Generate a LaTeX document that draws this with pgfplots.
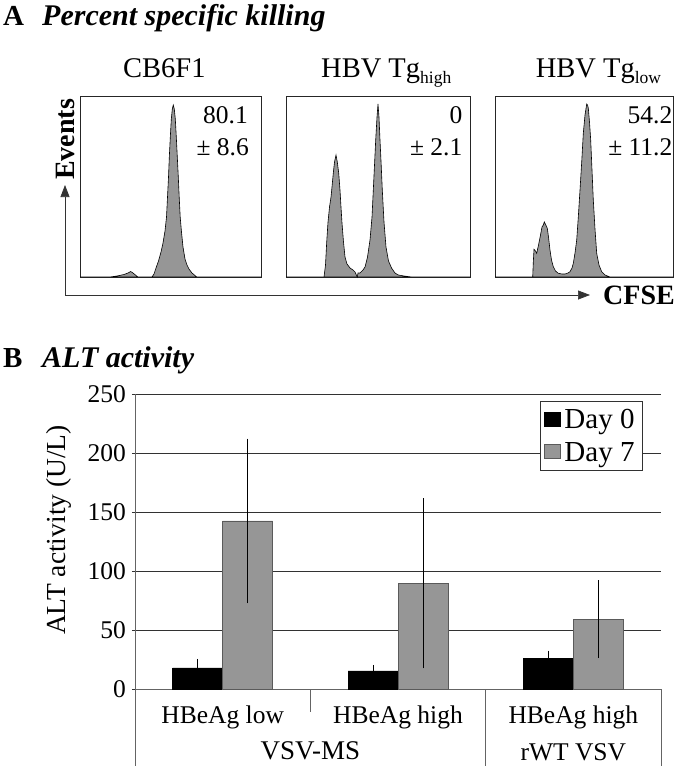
\documentclass[border=0pt]{standalone}
\usepackage{fontspec}
\setmainfont{Liberation Serif}
\usepackage{pgfplots}
\pgfplotsset{compat=1.18}
\usetikzlibrary{arrows.meta}
\definecolor{histgray}{RGB}{150,150,150}
\definecolor{bargray}{RGB}{150,150,150}
\definecolor{baredge}{RGB}{90,90,90}
\definecolor{gridc}{RGB}{50,50,50}
\definecolor{axc}{RGB}{100,100,100}
\pgfplotsset{
  hist/.style={scale only axis, anchor=south west, height=181pt, ymin=0, ymax=181,
    xtick=\empty, ytick=\empty, axis line style={black!85, line width=0.8pt}, clip=false},
  histfill/.style={fill=histgray, draw=black, line width=0.6pt},
}
\begin{document}
\begin{tikzpicture}
\useasboundingbox (0pt,0pt) rectangle (680pt,-766pt);

\node[anchor=base west, inner sep=0pt, font=\fontsize{29}{30}\selectfont\bfseries] at (3pt,-25pt) {A};
\node[anchor=base west, inner sep=0pt, font=\fontsize{30}{30}\selectfont\bfseries\itshape] at (42pt,-25pt) {Percent specific killing};
\node[anchor=base west, inner sep=0pt, font=\fontsize{29}{30}\selectfont\bfseries] at (3pt,-367pt) {B};
\node[anchor=base west, inner sep=0pt, font=\fontsize{30}{30}\selectfont\bfseries\itshape] at (42pt,-367pt) {ALT activity};

% ---- histogram 1
\begin{axis}[hist, at={(80pt,-277pt)}, width=181pt, xmin=0, xmax=181]
\addplot[histfill] coordinates {(0,0) (30,0) (37,1) (44,2.5) (48,4) (50.7,5.5) (53,4) (56,1.5) (58,0) (72,0) (74,3) (76,9) (78.5,16) (81,25) (83,34) (85,46) (86.5,60) (87.5,80) (88.5,100) (89.3,120) (90.3,140) (91.3,158) (92.3,168) (93.3,172) (94.3,168) (95.3,158) (96.3,140) (97.3,120) (98.3,100) (99.2,80) (100.2,60) (101.5,45) (103,30) (105,18) (107,12) (109,8) (112,4) (116.7,0) (181,0)} \closedcycle;
\node[anchor=base east, inner sep=0pt, font=\fontsize{25.5}{30}\selectfont] at (axis cs:168,153.5) {80.1};
\node[anchor=base east, inner sep=0pt, font=\fontsize{25.5}{30}\selectfont] at (axis cs:169,121.8) {± 8.6};
\end{axis}
\node[anchor=base west, inner sep=0pt, font=\fontsize{28.5}{30}\selectfont] at (123pt,-77.5pt) {CB6F1};

% ---- histogram 2
\begin{axis}[hist, at={(286pt,-277pt)}, width=184pt, xmin=0, xmax=184]
\addplot[histfill] coordinates {(0,0) (38,0) (39.5,12) (40.7,35) (42,55) (43.5,70) (45,80) (45.7,87) (47.3,104) (48.5,115) (50,122) (51.3,115) (52.7,104) (54,87) (55,70) (56,54) (57.5,35) (59,20) (61,13) (64,9) (67,7) (69,5) (71.3,0) (72,4) (74,4) (77,7) (79,10) (81.5,20) (84,37) (86,60) (87.3,87) (88.5,112) (89.7,137) (91,160) (92,173) (93,160) (94,137) (95.2,112) (96.3,87) (98,55) (100,30) (102.5,16) (105.7,8.7) (109,4) (112.3,2) (118,1) (125.7,0) (184,0)} \closedcycle;
\node[anchor=base east, inner sep=0pt, font=\fontsize{25.5}{30}\selectfont] at (axis cs:176.5,153.5) {0};
\node[anchor=base east, inner sep=0pt, font=\fontsize{25.5}{30}\selectfont] at (axis cs:176.5,121.8) {± 2.1};
\end{axis}
\node[anchor=base west, inner sep=0pt, font=\fontsize{28.5}{30}\selectfont] at (321pt,-77.5pt) {HBV Tg\raisebox{-6pt}{\fontsize{17.5}{20}\selectfont high}};

% ---- histogram 3
\begin{axis}[hist, at={(495pt,-277pt)}, width=178pt, xmin=0, xmax=178]
\addplot[histfill] coordinates {(0,0) (37.7,0) (38.3,15) (39,27.7) (40.5,26) (41.7,23.7) (43.5,32) (45.5,42) (47,50) (48.3,52) (49.3,55) (50.5,52.7) (52.3,48.7) (53.5,40) (55,27) (56.5,17) (58.3,10.3) (60.5,6) (63.3,3.7) (67,3) (70,3) (73,4) (75,5.3) (77,9) (78.3,13.7) (80,24) (81.7,37) (83.3,60) (85,87) (86.7,115) (88.3,143.7) (90,162) (91.7,173) (92.5,172) (93.3,169) (94.5,155) (95.7,137) (97,107) (98.3,77) (100,48) (101.7,23.7) (104,12) (106.7,5.3) (110,2) (115,0) (178,0)} \closedcycle;
\node[anchor=base east, inner sep=0pt, font=\fontsize{25.5}{30}\selectfont] at (axis cs:177.5,153.5) {54.2};
\node[anchor=base east, inner sep=0pt, font=\fontsize{25.5}{30}\selectfont] at (axis cs:177.5,121.8) {± 11.2};
\end{axis}
\node[anchor=base west, inner sep=0pt, font=\fontsize{28.5}{30}\selectfont] at (535.6pt,-77.5pt) {HBV Tg\raisebox{-6pt}{\fontsize{17.5}{20}\selectfont low}};

% ---- Events / CFSE arrows
\begin{axis}[at={(65pt,-295pt)}, anchor=south west, scale only axis, width=525pt, height=110pt,
  xmin=0, xmax=1, ymin=0, ymax=1, axis x line*=bottom, axis y line*=left,
  xtick=\empty, ytick=\empty,
  axis line style={black!80, line width=0.7pt, -{Triangle[length=12pt,width=9pt]}},
  xlabel={CFSE}, ylabel={Events},
  label style={font=\fontsize{28}{30}\selectfont\bfseries, inner sep=0pt},
  xlabel style={at={(axis description cs:1,0)}, anchor=west, xshift=13pt},
  ylabel style={at={(axis description cs:0,1.045)}, anchor=west}]
\addplot[draw=none] coordinates {(0,0)};
\end{axis}

% ---- Panel B
\begin{axis}[at={(135pt,-689pt)}, anchor=south west, scale only axis, width=526pt, height=295pt,
  xmin=0, xmax=3, ymin=0, ymax=250, ytick={0,50,...,250},
  ymajorgrids, grid style={gridc, line width=0.7pt},
  axis x line*=bottom, axis y line*=left, axis line style={axc, line width=0.8pt},
  xtick={0.5,1.5,2.5}, xticklabels={HBeAg low, HBeAg high, {HBeAg high\\rWT VSV}},
  xticklabel style={align=center, anchor=north, inner sep=0pt, yshift=-14pt},
  xtick style={draw=none}, ytick style={draw=gridc, line width=0.7pt},
  major tick length=3pt, tick align=outside,
  tick label style={font=\fontsize{25.5}{37}\selectfont},
  yticklabel style={inner sep=0pt, xshift=-6pt},
  /pgf/number format/assume math mode=true,
  ylabel={ALT activity (U/L)},
  ylabel style={font=\fontsize{27.5}{30}\selectfont, at={(axis description cs:-0.1312,0.539)}, anchor=base, inner sep=0pt},
  clip=false, ybar, bar width=50pt,
  legend style={at={(axis description cs:0.77,0.976)}, anchor=north west, draw=gridc, fill=white,
    line width=0.7pt, font=\fontsize{29}{30}\selectfont, inner xsep=4pt, inner ysep=8pt, row sep=12pt,
    nodes={inner xsep=3.5pt, inner ysep=0pt}},
  legend cell align=left,
  legend image code/.code={\draw[#1, line width=0.6pt] (0pt,-6pt) rectangle (16pt,8pt);},
  error bars/error mark options={black, mark size=3pt, line width=0.7pt},
]
\addplot[bar shift=-25pt, fill=black, draw=black,
  error bars/.cd, y dir=both, y explicit, error bar style={black, line width=0.7pt}]
  coordinates {(0.5,18) +- (0,5) (1.5,15.3) +- (0,2.7) (2.5,26) +- (0,4)};
\addlegendentry{Day 0}
\addplot[bar shift=25pt, fill=bargray, draw=baredge,
  error bars/.cd, y dir=both, y explicit, error bar style={black, line width=0.7pt}]
  coordinates {(0.5,142.4) +- (0,67.2) (1.5,89.6) +- (0,69.5) (2.5,59.2) +- (0,30.4)};
\addlegendentry{Day 7}
\draw[axc, line width=0.8pt] (axis cs:0,0) -- ++(0pt,-77pt);
\draw[axc, line width=0.8pt] (axis cs:1,0) -- ++(0pt,-23pt);
\draw[axc, line width=0.8pt] (axis cs:2,0) -- ++(0pt,-77pt);
\draw[axc, line width=0.8pt] (axis cs:3,0) -- ++(0pt,-77pt);
\node[anchor=base, inner sep=0pt, font=\fontsize{27}{37}\selectfont] at (axis cs:1,0) [yshift=-70pt] {VSV-MS};
\end{axis}
\end{tikzpicture}
\end{document}
